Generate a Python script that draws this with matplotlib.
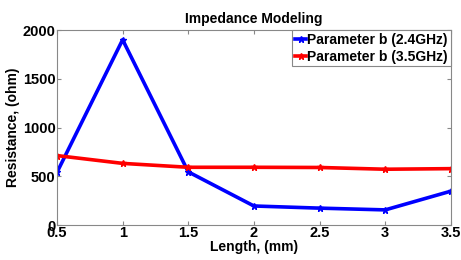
import matplotlib
matplotlib.use("Agg")
import matplotlib.pyplot as plt

length_mm = [0.5, 1, 1.5, 2, 2.5, 3, 3.5]
res_24 = [540, 1900, 545, 195, 173, 155, 347]
res_35 = [712, 632, 592, 592, 590, 572, 578]
xticks = [0.5, 1, 1.5, 2, 2.5, 3, 3.5]
yticks = [0, 500, 1000, 1500, 2000]

plt.rcParams["font.family"] = ["Liberation Sans", "DejaVu Sans"]
plt.rcParams["font.weight"] = "bold"

fig = plt.figure(figsize=(4.61, 2.60), dpi=100)
ax = fig.add_axes([0.1236, 0.1346, 0.8544, 0.75])

ax.plot(length_mm, res_24, color="#0000ff", lw=2.6, marker="*", ms=5,
        label="Parameter b (2.4GHz)")
ax.plot(length_mm, res_35, color="#ff0000", lw=2.6, marker="*", ms=5,
        label="Parameter b (3.5GHz)")

ax.set_xlim(0.5, 3.5)
ax.set_ylim(0, 2000)
ax.set_xticks(xticks)
ax.set_xticklabels(["0.5", "1", "1.5", "2", "2.5", "3", "3.5"])
ax.set_yticks(yticks)
ax.tick_params(direction="in", top=True, right=True, labelsize=10.5, length=3,
               color="#888888", pad=1)
for s in ax.spines.values():
    s.set_color("#888888")
    s.set_linewidth(0.8)

ax.set_xlabel("Length, (mm)", fontsize=10, fontweight="bold", labelpad=0)
ax.set_ylabel("Resistance, (ohm)", fontsize=10, fontweight="bold", labelpad=2)
ax.set_title("Impedance Modeling", fontsize=10, fontweight="bold", pad=5)

leg = ax.legend(loc="upper right", fontsize=10, handlelength=0.8, handletextpad=0.1,
                borderpad=0.2, labelspacing=0.2, borderaxespad=0.0, fancybox=False,
                edgecolor="#888888", framealpha=1)
leg.get_frame().set_linewidth(0.8)

fig.savefig("out.png", dpi=100)
